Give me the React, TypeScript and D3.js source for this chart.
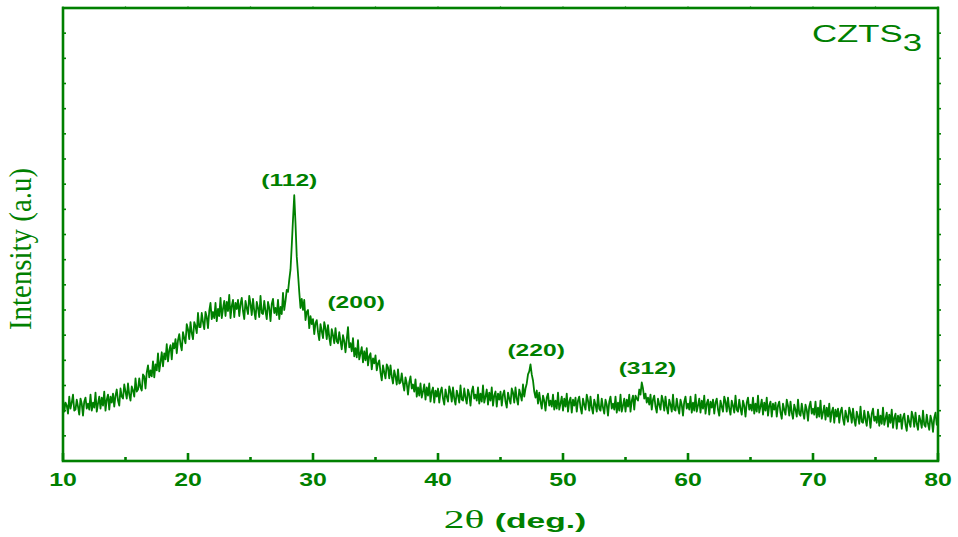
import React from 'react';
import * as d3 from 'd3';

// XRD scan of CZTS3, 10-80 deg, 0.1 deg step
const scanStart = 10;
const scanStep = 0.1;

const counts10 = [
  62, 49, 58, 55, 47, 64, 52, 58, 66, 50,
  51, 61, 54, 46, 62, 57, 45, 59, 63, 52,
  57, 51, 66, 50, 58, 53, 68, 49, 57, 64,
  52, 63, 55, 69, 50, 61, 66, 51, 64, 58,
  67, 54, 65, 71, 60, 55, 72, 64, 62, 76,
  69, 62, 77, 66, 60, 74, 70, 64, 82, 69,
  71, 82, 73, 70, 86, 84, 72, 88, 95, 83,
  90, 84, 99, 83, 96, 90, 107, 89, 98, 108,
  94, 107, 101, 116, 99, 110, 115, 101, 117, 112,
  121, 107, 120, 126, 116, 110, 128, 122, 117, 136,
];
const counts20 = [
  131, 121, 138, 127, 121, 138, 134, 127, 147, 133,
  133, 147, 138, 131, 148, 143, 132, 149, 157, 141,
  148, 142, 157, 139, 151, 144, 162, 142, 151, 159,
  144, 158, 149, 165, 142, 154, 160, 143, 157, 151,
  160, 144, 156, 162, 149, 141, 159, 152, 146, 164,
  156, 145, 161, 149, 141, 158, 152, 143, 164, 147,
  146, 159, 149, 141, 158, 152, 139, 156, 161, 147,
  152, 145, 160, 141, 153, 146, 167, 150, 159, 170,
  168, 180, 190, 214, 240, 264, 236, 203, 186, 168,
  152, 161, 150, 160, 140, 148, 150, 132, 144, 136,
];
const counts30 = [
  141, 126, 137, 140, 128, 120, 136, 129, 122, 138,
  132, 121, 135, 123, 115, 131, 125, 117, 132, 119,
  117, 128, 119, 111, 125, 119, 108, 121, 133, 113,
  117, 109, 122, 104, 112, 103, 120, 101, 107, 113,
  98, 109, 100, 112, 95, 104, 107, 91, 102, 97,
  105, 90, 97, 100, 88, 80, 95, 88, 82, 96,
  93, 82, 95, 84, 77, 90, 84, 76, 91, 77,
  78, 87, 77, 70, 83, 77, 66, 78, 84, 72,
  76, 69, 81, 64, 73, 65, 77, 63, 69, 76,
  61, 73, 65, 77, 59, 69, 73, 58, 70, 64,
];
const counts40 = [
  72, 58, 69, 73, 62, 56, 71, 64, 59, 74,
  69, 59, 73, 62, 56, 70, 65, 58, 75, 61,
  60, 72, 63, 57, 71, 66, 55, 69, 74, 62,
  66, 60, 73, 57, 67, 59, 75, 58, 64, 71,
  56, 68, 60, 73, 55, 65, 69, 54, 67, 61,
  69, 55, 66, 70, 59, 53, 68, 62, 57, 72,
  68, 58, 73, 62, 56, 71, 66, 60, 76, 64,
  72, 77, 86, 89, 96, 86, 80, 69, 63, 70,
  57, 68, 59, 52, 65, 60, 50, 63, 67, 55,
  60, 54, 66, 51, 60, 52, 68, 51, 57, 64,
];
const counts50 = [
  50, 62, 54, 67, 49, 59, 63, 48, 61, 55,
  63, 49, 60, 64, 53, 47, 62, 56, 51, 66,
  60, 50, 64, 53, 47, 61, 56, 49, 66, 52,
  50, 62, 53, 47, 61, 56, 45, 59, 64, 52,
  57, 51, 64, 48, 58, 50, 66, 49, 55, 62,
  49, 61, 54, 66, 49, 60, 65, 51, 65, 62,
  60, 71, 66, 78, 72, 62, 67, 58, 63, 56,
  66, 51, 61, 65, 54, 48, 62, 56, 51, 65,
  60, 50, 64, 53, 47, 61, 56, 49, 66, 51,
  50, 62, 53, 47, 61, 56, 45, 59, 64, 52,
];
const counts60 = [
  57, 51, 64, 48, 58, 50, 66, 49, 55, 62,
  48, 60, 52, 65, 47, 57, 61, 46, 59, 53,
  61, 47, 58, 62, 51, 45, 60, 54, 49, 64,
  59, 49, 63, 52, 46, 60, 55, 48, 65, 51,
  49, 61, 52, 46, 60, 55, 44, 58, 63, 51,
  56, 50, 63, 47, 57, 49, 65, 48, 54, 61,
  46, 58, 50, 63, 45, 55, 59, 44, 57, 51,
  58, 44, 55, 59, 48, 42, 57, 51, 46, 61,
  55, 45, 59, 48, 42, 56, 51, 44, 61, 47,
  45, 57, 48, 42, 56, 51, 40, 54, 59, 47,
];
const counts70 = [
  52, 46, 59, 43, 53, 44, 60, 42, 48, 55,
  41, 53, 44, 57, 39, 49, 53, 38, 51, 44,
  52, 38, 49, 53, 42, 36, 50, 44, 39, 53,
  48, 38, 52, 41, 35, 49, 44, 37, 54, 39,
  38, 50, 41, 35, 49, 44, 33, 47, 52, 40,
  44, 38, 51, 35, 45, 37, 53, 36, 42, 48,
  34, 46, 38, 51, 33, 43, 47, 32, 45, 39,
  46, 32, 43, 47, 36, 30, 45, 39, 34, 49,
  44, 34, 48, 37, 31, 45, 40, 33, 50, 36,
  34, 46, 37, 31, 45, 40, 29, 43, 48, 36,
  38,
];

const xMajorTicks = [10, 20, 30, 40, 50, 60, 70, 80];
const xMinorTicks = [15, 25, 35, 45, 55, 65, 75];

// peak labels: [2theta, intensity of label baseline]
const peakLabels = ['(112)', '(200)', '(220)', '(312)'];
const peakTheta = [28.1, 33.45, 47.85, 56.75];
const peakLevel = [273, 152, 104, 86];

const green = '#008000';
const sans = '"Liberation Sans", Arial, sans-serif';
const serif = '"Liberation Serif", "Times New Roman", serif';
const stretch = 1.42; // the figure was exported wider than tall

export default function App() {
  const W = 958, H = 537;
  const m = { left: 63, right: 20, top: 8, bottom: 76 };

  const counts = [...counts10, ...counts20, ...counts30, ...counts40, ...counts50, ...counts60, ...counts70];
  const data = counts.map((c, i) => ({ t: scanStart + i * scanStep, c }));

  const x = d3.scaleLinear().domain([10, 80]).range([m.left, W - m.right]);
  const y = d3.scaleLinear().domain([0, 450]).range([H - m.bottom, m.top]);
  const yTicks = d3.range(25, 450, 25);

  const line = d3.line<{ t: number; c: number }>()
    .x(d => x(d.t))
    .y(d => y(d.c));

  const x0 = x(10), x1 = x(80), y0 = y(0), y1 = y(450);

  return (
    <svg width={W} height={H} style={{ position: 'absolute', left: 0, top: 0 }}>
      <rect x={0} y={0} width={W} height={H} fill="#fff" />

      <path d={line(data) || ''} fill="none" stroke={green} strokeWidth={1.8} strokeLinejoin="round" />

      {/* frame */}
      <rect x={x0} y={y1} width={x1 - x0} height={y0 - y1} fill="none" stroke={green} strokeWidth={2.6} />

      {/* y ticks left (inside) and right (outside) */}
      {yTicks.map(t => (
        <g key={t} stroke={green} strokeWidth={1.6}>
          <line x1={x0} x2={x0 + 3} y1={y(t)} y2={y(t)} />
          <line x1={x1} x2={x1 + 3} y1={y(t)} y2={y(t)} />
        </g>
      ))}

      {/* x ticks */}
      {xMajorTicks.map(t => (
        <g key={t}>
          <line x1={x(t)} x2={x(t)} y1={y0} y2={y0 - 8} stroke={green} strokeWidth={2.6} />
          <line x1={x(t)} x2={x(t)} y1={y1} y2={y1 - 2} stroke={green} strokeWidth={1.2} opacity={0.5} />
          <text transform={`translate(${x(t)},${y0 + 25}) scale(${stretch},1)`} textAnchor="middle" fill={green}
            fontFamily={sans} fontWeight="bold" fontSize={17.5}>{t}</text>
        </g>
      ))}
      {xMinorTicks.map(t => (
        <g key={t}>
          <line x1={x(t)} x2={x(t)} y1={y0} y2={y0 - 4} stroke={green} strokeWidth={2.6} />
          <line x1={x(t)} x2={x(t)} y1={y1} y2={y1 - 2} stroke={green} strokeWidth={1.2} opacity={0.5} />
        </g>
      ))}

      {/* peak labels */}
      {peakLabels.map((lab, i) => (
        <text key={lab} transform={`translate(${x(peakTheta[i])},${y(peakLevel[i])}) scale(1.45,1)`}
          textAnchor="middle" fill={green} fontFamily={sans} fontWeight="bold" fontSize={17}>{lab}</text>
      ))}

      {/* sample name */}
      <text transform={`translate(812,42) scale(1.45,1)`} fill={green} fontFamily={sans} fontSize={24}>
        CZTS<tspan dy={9}>3</tspan>
      </text>

      {/* axis titles */}
      <text transform={`translate(515,528) scale(1.6,1)`} textAnchor="middle" fill={green}>
        <tspan fontFamily={serif} fontSize={26}>2θ </tspan>
        <tspan fontFamily={sans} fontWeight="bold" fontSize={21}>(deg.)</tspan>
      </text>
      <text transform="translate(31,249) rotate(-90) scale(1,1.3)" textAnchor="middle" fill={green}
        fontFamily={serif} fontSize={25} textLength={162} lengthAdjust="spacingAndGlyphs">
        Intensity (a.u)
      </text>
    </svg>
  );
}
